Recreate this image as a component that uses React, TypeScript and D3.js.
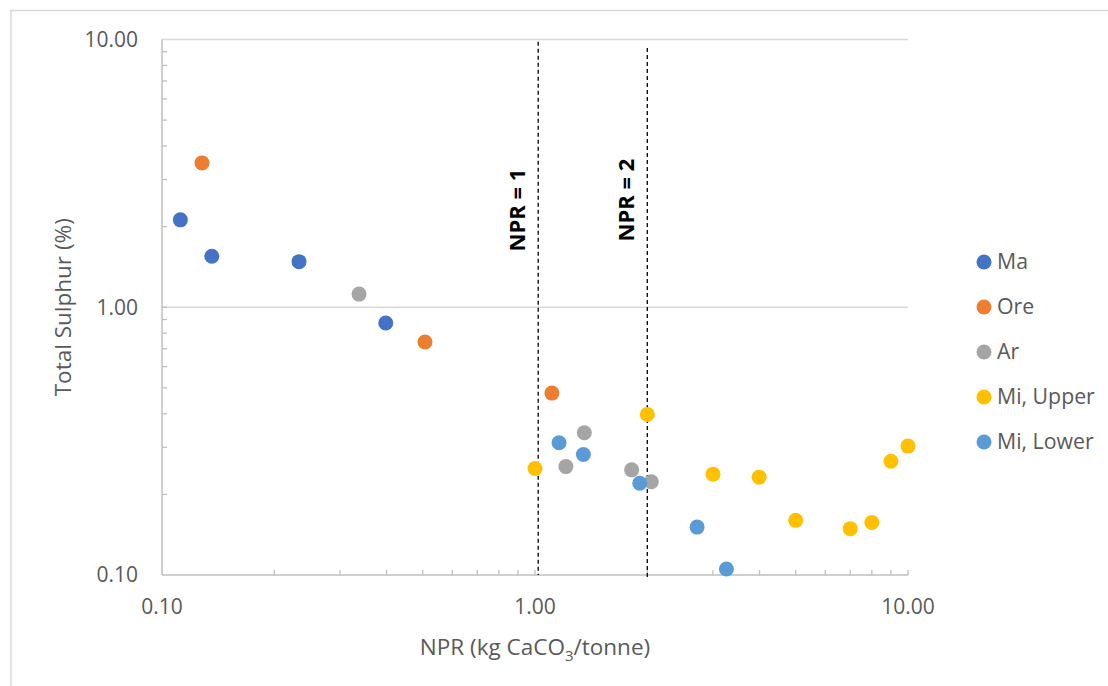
import React, { useEffect, useRef } from 'react';
import * as d3 from 'd3';

// series values: [NPR, total sulphur %]
const seriesNames = ['Ma', 'Ore', 'Ar', 'Mi, Upper', 'Mi, Lower'];
const seriesColors = ['#4472C4', '#ED7D31', '#A5A5A5', '#FFC000', '#5B9BD5'];

const maPoints = [[0.112, 2.12], [0.136, 1.55], [0.233, 1.48], [0.398, 0.873]];
const orePoints = [[0.128, 3.46], [0.507, 0.742], [1.11, 0.478]];
const arPoints = [[0.3375, 1.12], [1.356, 0.34], [1.21, 0.254], [1.816, 0.247], [2.05, 0.223]];
const miUpperPoints = [
  [1.0, 0.25], [2.0, 0.398], [3.0, 0.238], [3.99, 0.232], [5.0, 0.16],
  [7.0, 0.149], [8.0, 0.157], [9.0, 0.266], [10.0, 0.303],
];
const miLowerPoints = [[1.16, 0.312], [1.348, 0.282], [1.909, 0.22], [2.72, 0.151], [3.26, 0.1053]];

const allSeries = [maPoints, orePoints, arPoints, miUpperPoints, miLowerPoints];

// dashed reference lines: x, top, bottom (as data values)
const refLines = [
  { x: 1.02, top: 9.8, bottom: 0.1, label: 'NPR = 1' },
  { x: 2.0, top: 9.3, bottom: 0.098, label: 'NPR = 2' },
];

const xTicks = [0.1, 1, 10];
const yTicks = [0.1, 1, 10];

const FONT = '"Open Sans", sans-serif';

const App: React.FC = () => {
  const svgRef = useRef<SVGSVGElement>(null);

  useEffect(() => {
    if (!svgRef.current) return;
    const svg = d3.select(svgRef.current);
    svg.selectAll('*').remove();

    const left = 162, right = 908, top = 39.5, bottom = 575;

    const x = d3.scaleLog().domain([0.1, 10]).range([left, right]);
    const y = d3.scaleLog().domain([0.1, 10]).range([bottom, top]);

    // outer chart frame
    svg.append('rect')
      .attr('x', 11).attr('y', 10.5)
      .attr('width', 1200).attr('height', 800)
      .attr('fill', 'white')
      .attr('stroke', '#d9d9d9')
      .attr('stroke-width', 1.5);

    // horizontal gridlines
    svg.append('g')
      .selectAll('line')
      .data(yTicks.slice(1))
      .enter()
      .append('line')
      .attr('x1', left).attr('x2', right)
      .attr('y1', d => y(d)).attr('y2', d => y(d))
      .attr('stroke', '#d9d9d9')
      .attr('stroke-width', 1.5);

    // minor ticks
    const minorVals: number[] = [];
    [0.1, 1].forEach(dec => {
      for (let k = 2; k <= 10; k++) minorVals.push(dec * k);
    });

    svg.append('g')
      .selectAll('line')
      .data(minorVals)
      .enter()
      .append('line')
      .attr('x1', d => x(d)).attr('x2', d => x(d))
      .attr('y1', bottom).attr('y2', bottom - 5)
      .attr('stroke', '#bfbfbf')
      .attr('stroke-width', 1.3);

    svg.append('g')
      .selectAll('line')
      .data(minorVals.filter(v => v < 10))
      .enter()
      .append('line')
      .attr('x1', left).attr('x2', left + 5)
      .attr('y1', d => y(d)).attr('y2', d => y(d))
      .attr('stroke', '#bfbfbf')
      .attr('stroke-width', 1.3);

    // axis lines
    svg.append('line')
      .attr('x1', left).attr('x2', right)
      .attr('y1', bottom).attr('y2', bottom)
      .attr('stroke', '#bfbfbf').attr('stroke-width', 1.5);
    svg.append('line')
      .attr('x1', left).attr('x2', left)
      .attr('y1', top).attr('y2', bottom)
      .attr('stroke', '#bfbfbf').attr('stroke-width', 1.5);

    // tick labels
    svg.append('g')
      .selectAll('text')
      .data(xTicks)
      .enter()
      .append('text')
      .attr('x', d => x(d))
      .attr('y', 607)
      .attr('dy', '0.35em')
      .attr('text-anchor', 'middle')
      .attr('font-family', FONT)
      .attr('font-size', 21)
      .attr('fill', '#595959')
      .text(d => d3.format('.2f')(d));

    svg.append('g')
      .selectAll('text')
      .data(yTicks)
      .enter()
      .append('text')
      .attr('x', 138)
      .attr('y', d => y(d))
      .attr('dy', '0.35em')
      .attr('text-anchor', 'end')
      .attr('font-family', FONT)
      .attr('font-size', 21)
      .attr('fill', '#595959')
      .text(d => d3.format('.2f')(d));

    // axis titles
    const xt = svg.append('text')
      .attr('x', 535)
      .attr('y', 647)
      .attr('dy', '0.35em')
      .attr('text-anchor', 'middle')
      .attr('font-family', FONT)
      .attr('font-size', 22.5)
      .attr('fill', '#595959');
    xt.append('tspan').text('NPR (kg CaCO');
    xt.append('tspan').attr('font-size', 15).attr('dy', 6).text('3');
    xt.append('tspan').attr('dy', -6).text('/tonne)');

    svg.append('text')
      .attr('transform', `translate(63,${y(1)}) rotate(-90)`)
      .attr('dy', '0.35em')
      .attr('text-anchor', 'middle')
      .attr('font-family', FONT)
      .attr('font-size', 22.5)
      .attr('fill', '#595959')
      .text('Total Sulphur (%)');

    // dashed reference lines + labels
    const refG = svg.append('g');
    refG.selectAll('line')
      .data(refLines)
      .enter()
      .append('line')
      .attr('x1', d => x(d.x)).attr('x2', d => x(d.x))
      .attr('y1', d => y(d.top)).attr('y2', d => y(d.bottom))
      .attr('stroke', '#000')
      .attr('stroke-width', 1.3)
      .attr('stroke-dasharray', '4,3');

    refG.selectAll('text')
      .data(refLines)
      .enter()
      .append('text')
      .attr('transform', (d, i) => `translate(${x(d.x) - 21},${i === 0 ? 210 : 200}) rotate(-90)`)
      .attr('dy', '0.35em')
      .attr('text-anchor', 'middle')
      .attr('font-family', FONT)
      .attr('font-weight', 'bold')
      .attr('font-size', 22)
      .attr('fill', '#000')
      .text(d => d.label);

    // points
    allSeries.forEach((pts, si) => {
      svg.append('g')
        .selectAll('circle')
        .data(pts)
        .enter()
        .append('circle')
        .attr('cx', d => x(d[0]))
        .attr('cy', d => y(d[1]))
        .attr('r', 7.5)
        .attr('fill', seriesColors[si]);
    });

    // legend
    const legend = svg.append('g');
    seriesNames.forEach((name, i) => {
      const ly = 262 + i * 45;
      legend.append('circle')
        .attr('cx', 984).attr('cy', ly).attr('r', 7.5)
        .attr('fill', seriesColors[i]);
      legend.append('text')
        .attr('x', 997).attr('y', ly)
        .attr('dy', '0.35em')
        .attr('font-family', FONT)
        .attr('font-size', 21.3)
        .attr('fill', '#595959')
        .text(name);
    });
  }, []);

  return (
    <svg
      ref={svgRef}
      width={1108}
      height={686}
      style={{ position: 'absolute', left: 0, top: 0, display: 'block', background: 'white' }}
    ></svg>
  );
};

export default App;
